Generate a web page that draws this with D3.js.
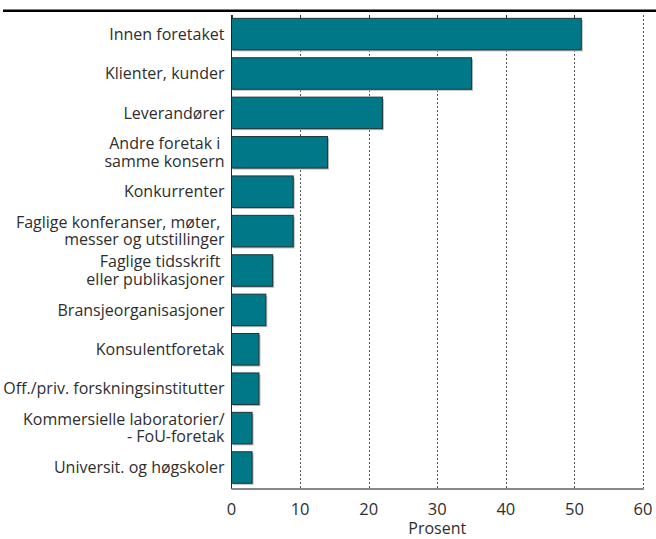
<!DOCTYPE html>
<html>
<head>
<meta charset="utf-8">
<script src="https://cdn.jsdelivr.net/npm/d3@7/dist/d3.min.js"></script>
<style>
  html, body { margin: 0; padding: 0; background: #fff; }
  svg { display: block; }
  text { font-family: "Open Sans", "Noto Sans", sans-serif; fill: #2e2e2e; white-space: pre; }
</style>
</head>
<body>
<svg id="chart" width="656" height="539"></svg>
<script>
const categories = [
  ["Innen foretaket"],
  ["Klienter, kunder"],
  ["Leverandører"],
  ["Andre foretak i ", "samme konsern"],
  ["Konkurrenter"],
  ["Faglige konferanser, møter, ", "messer og utstillinger"],
  ["Faglige tidsskrift ", "eller publikasjoner"],
  ["Bransjeorganisasjoner"],
  ["Konsulentforetak"],
  ["Off./priv. forskningsinstitutter"],
  ["Kommersielle laboratorier/", "- FoU-foretak"],
  ["Universit. og høgskoler"]
];
const values = [51, 35, 22, 14, 9, 9, 6, 5, 4, 4, 3, 3];
const xTicks = [0, 10, 20, 30, 40, 50, 60];
const xLabel = "Prosent";

(function () {
const svg = d3.select("#chart");
const ids = categories.map((c, i) => i);

const x = d3.scaleLinear().domain([0, 60]).range([231.5, 643]);
const y = d3.scaleBand().domain(ids).range([14.4, 487.2]).paddingInner(0.2).paddingOuter(0.1);

const plotTop = 15, plotBottom = 489;

// top thick rule
svg.append("line").attr("x1", 3).attr("x2", 656).attr("y1", 10.7).attr("y2", 10.7)
  .attr("stroke", "#000").attr("stroke-width", 2.6);

// grid lines (dotted)
svg.append("g").selectAll("line").data(xTicks.filter(d => d > 0)).join("line")
  .attr("x1", d => Math.round(x(d)) + 0.5).attr("x2", d => Math.round(x(d)) + 0.5)
  .attr("y1", d => d === 60 ? plotTop : plotTop + 3).attr("y2", plotBottom)
  .attr("stroke", "#555").attr("stroke-width", 1).attr("stroke-dasharray", "2,2");

// top tick marks
svg.append("g").selectAll("line").data(xTicks.filter(d => d < 60)).join("line")
  .attr("x1", d => Math.round(x(d)) + 0.5).attr("x2", d => Math.round(x(d)) + 0.5)
  .attr("y1", plotTop).attr("y2", plotTop + 3.5)
  .attr("stroke", "#333").attr("stroke-width", 1);

// bars: shadow, then bar
const bars = svg.append("g");
bars.selectAll("rect.shadow").data(values).join("rect").attr("class", "shadow")
  .attr("x", x(0) + 1.5).attr("y", (d, i) => y(i) + 1.5)
  .attr("width", d => x(d) - x(0)).attr("height", y.bandwidth())
  .attr("fill", "#b8b8b8");
bars.selectAll("rect.bar").data(values).join("rect").attr("class", "bar")
  .attr("x", x(0)).attr("y", (d, i) => y(i))
  .attr("width", d => x(d) - x(0)).attr("height", y.bandwidth())
  .attr("fill", "#007888").attr("stroke", "#1f3336").attr("stroke-width", 1);

// left axis line
svg.append("line").attr("x1", x(0)).attr("x2", x(0)).attr("y1", plotTop).attr("y2", plotBottom)
  .attr("stroke", "#222").attr("stroke-width", 1);

// bottom axis line
svg.append("line").attr("x1", x(0)).attr("x2", x(60) + 1).attr("y1", plotBottom).attr("y2", plotBottom)
  .attr("stroke", "#888").attr("stroke-width", 2);

// category labels
const lineH = 17.5;
const lab = svg.append("g");
categories.forEach((lines, i) => {
  const cy = y(i) + y.bandwidth() / 2;
  const t = lab.append("text").attr("text-anchor", "end").attr("font-size", 16)
    .attr("x", 224.5);
  lines.forEach((s, j) => {
    t.append("tspan").attr("x", 224.5)
      .attr("y", cy + (j - (lines.length - 1) / 2) * lineH)
      .attr("dy", "0.35em").text(s);
  });
});

// x tick labels
svg.append("g").selectAll("text").data(xTicks).join("text")
  .attr("x", d => x(d)).attr("y", 509).attr("dy", "0.35em")
  .attr("text-anchor", "middle").attr("font-size", 16.5).text(d => d);

svg.append("text").attr("x", x(30)).attr("y", 528).attr("dy", "0.35em")
  .attr("text-anchor", "middle").attr("font-size", 16).text(xLabel);
})();
</script>
</body>
</html>
